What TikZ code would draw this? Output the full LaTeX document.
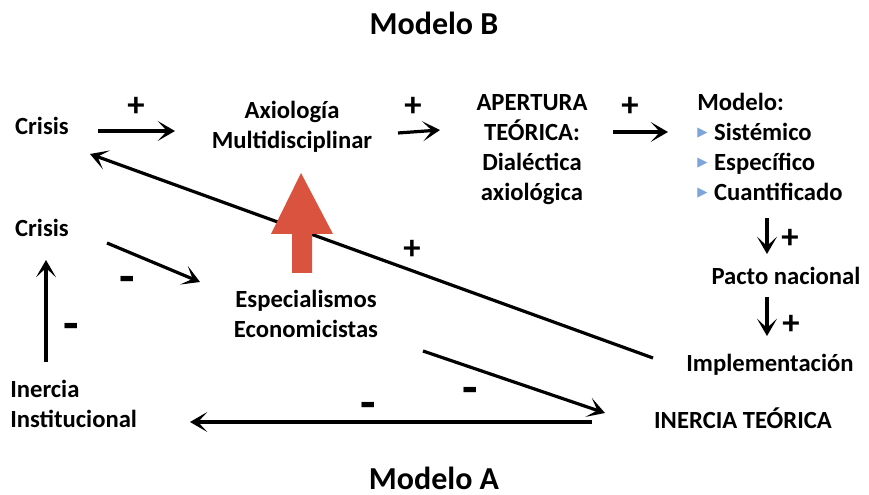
\documentclass[tikz,border=0pt]{standalone}
\usepackage{fontspec}
\setmainfont{Carlito}
\newfontfamily\symfont{DejaVu Sans}
\usetikzlibrary{arrows.meta}
\definecolor{blockred}{RGB}{217,83,63}
\definecolor{bulletblue}{RGB}{125,165,218}
\newcommand{\tri}{{\raisebox{3pt}{\symfont\fontsize{10}{10}\selectfont\color{bulletblue}▶}}\hspace{5pt}}
\begin{document}
\begin{tikzpicture}[x=0.75pt,y=-0.75pt,
  lbl/.style={inner sep=0pt,anchor=base,font=\bfseries\fontsize{18.5}{22.5}\selectfont},
  ttl/.style={inner sep=0pt,anchor=base,font=\bfseries\fontsize{24}{28}\selectfont},
  sign/.style={inner sep=0pt,yshift=-1.5pt,font=\bfseries\fontsize{26}{26}\selectfont},
  msign/.style={inner sep=0pt,yshift=-6pt,font=\bfseries\fontsize{38}{38}\selectfont},
  arr/.style={line width=2.4pt,-{Stealth[length=13pt,width=15pt,inset=7pt]}}]
\useasboundingbox (0,0) rectangle (869,495);
% titles
\node[ttl] (titB) at (434,35) {Modelo B};
\node[ttl] (titA) at (434,490) {Modelo A};
% Modelo B (base = last line)
\node[lbl] (crisisA) at (42,135) {Crisis};
\node[lbl,align=center] (axio) at (292,149) {Axiología\\Multidisciplinar};
\node[lbl,align=center] (apert) at (532,201) {APERTURA\\TEÓRICA:\\Dialéctica\\axiológica};
\node[lbl,align=left,anchor=base west] (modelo) at (697,201)
  {Modelo:\\\tri Sistémico\\\tri Específico\\\tri Cuantificado};
\node[lbl] (pacto) at (786,285) {Pacto nacional};
\node[lbl] (impl) at (770,372) {Implementación};
% Modelo A
\node[lbl] (crisisB) at (42,237) {Crisis};
\node[lbl,align=center] (espec) at (306,338) {Especialismos\\Economicistas};
\node[lbl,align=left,anchor=base west] (inercia) at (10,428) {Inercia\\Institucional};
\node[lbl] (inteo) at (743,429) {INERCIA TEÓRICA};

\draw[arr] ([shift={(56,-4)}]crisisA.base) -- ([shift={(-117,-18)}]axio.base);
\draw[arr] ([shift={(106,-16)}]axio.base) -- ([shift={(-92,-71)}]apert.base);
\draw[arr] ([shift={(81,-69)}]apert.base) -- ([shift={(-29,-69)}]modelo.base west);
\draw[arr] ([shift={(70,17)}]modelo.base west) -- ([shift={(-19,-31)}]pacto.base);
\draw[arr] ([shift={(-19,12)}]pacto.base) -- ([shift={(-3,-36)}]impl.base);
\draw[arr] ([shift={(-117,-14)}]impl.base) -- ([shift={(48,19)}]crisisA.base); % feedback
\draw[arr] ([shift={(65,6)}]crisisB.base) -- ([shift={(-106,-56)}]espec.base);
\draw[arr] ([shift={(36,-66)}]inercia.base west) -- ([shift={(4,23)}]crisisB.base);
\draw[arr] ([shift={(117,13)}]espec.base) -- ([shift={(-138,-16)}]inteo.base);
\draw[arr] ([shift={(-151,-7)}]inteo.base) -- ([shift={(180,-6)}]inercia.base west);

% signs
\node[sign] (p1) at (136,105) {+};
\node[sign] (p2) at (413,105) {+};
\node[sign] (p3) at (630,105) {+};
\node[sign] (p4) at (790,237) {+};
\node[sign] (p5) at (791,323) {+};
\node[sign] (p6) at (412,248) {+};
\node[msign] (m1) at (127,277) {-};
\node[msign] (m2) at (71,324) {-};
\node[msign] (m3) at (470,388) {-};
\node[msign] (m4) at (368,403) {-};

% block arrow
\fill[blockred] (301,173) -- (333,234) -- (312,234) -- (312,273) -- (292,273)
  -- (292,234) -- (271,234) -- cycle;
\end{tikzpicture}
\end{document}
